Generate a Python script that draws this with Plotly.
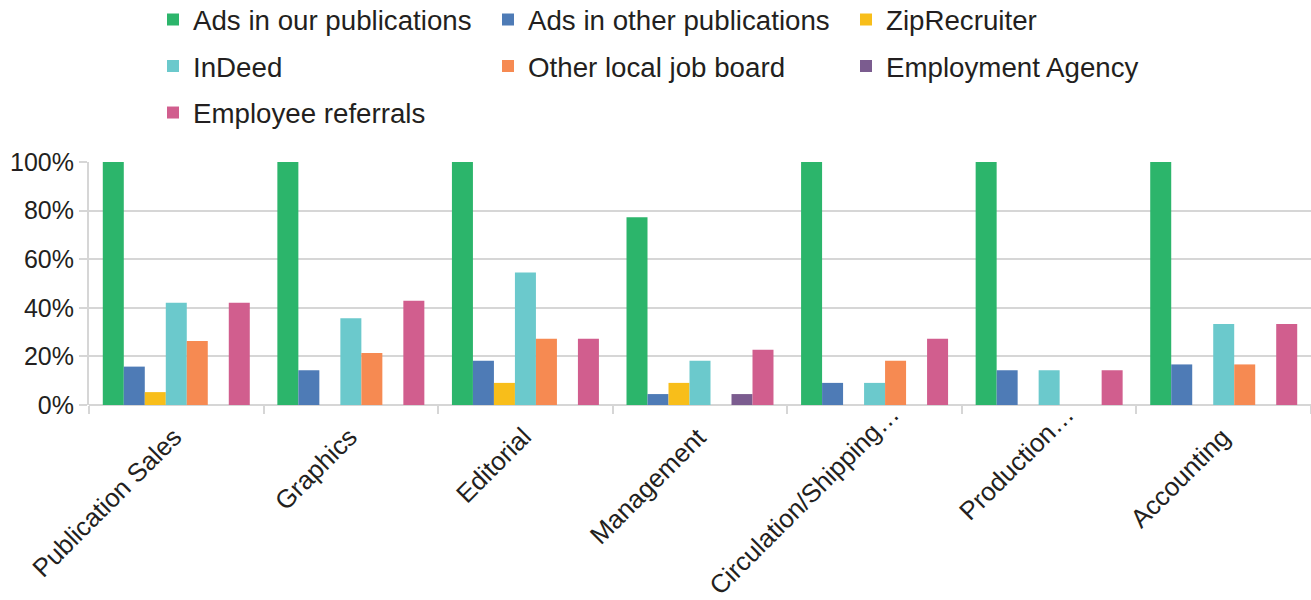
import plotly.graph_objects as go

# Hiring channels used, by department (share of positions, %)
departments = ["Publication Sales", "Graphics", "Editorial", "Management",
               "Circulation/Shipping…", "Production…", "Accounting"]

ads_our_publications = [100, 100, 100, 77.3, 100, 100, 100]
ads_other_publications = [15.8, 14.3, 18.2, 4.5, 9.1, 14.3, 16.7]
zip_recruiter = [5.3, 0, 9.1, 9.1, 0, 0, 0]
indeed = [42.1, 35.7, 54.5, 18.2, 9.1, 14.3, 33.3]
other_local_job_board = [26.3, 21.4, 27.3, 0, 18.2, 0, 16.7]
employment_agency = [0, 0, 0, 4.5, 0, 0, 0]
employee_referrals = [42.1, 42.9, 27.3, 22.7, 27.3, 14.3, 33.3]

y_ticks = [0, 20, 40, 60, 80, 100]
y_tick_labels = [f"{v}%" for v in y_ticks]

FONT = "Liberation Sans, Arial, Helvetica, sans-serif"
TEXT = "#231f20"
GRID = "#d6d6d6"

W, H = 1311, 600
ML, MR, MT, MB = 89, 0, 162, 195
PW, PH = W - ML - MR, H - MT - MB

series = [
    ("Ads in our publications", ads_our_publications, "#2cb56b", "legend"),
    ("Ads in other publications", ads_other_publications, "#4e7bb6", "legend2"),
    ("ZipRecruiter", zip_recruiter, "#f8be1a", "legend3"),
    ("InDeed", indeed, "#6bc9cc", "legend"),
    ("Other local job board", other_local_job_board, "#f68a52", "legend2"),
    ("Employment Agency", employment_agency, "#7b5c8f", "legend3"),
    ("Employee referrals", employee_referrals, "#d15e8e", "legend"),
]

fig = go.Figure()
for name, vals, color, leg in series:
    fig.add_trace(go.Bar(
        x=departments, y=vals, name=name,
        marker=dict(color=color, line=dict(width=0)),
        legend=leg, legendgroup=name,
    ))

# Rotated category labels; truncated names (ending in an ellipsis) sit
# further along the slant than the full names.
for dept in departments:
    truncated = dept.endswith("…")
    fig.add_annotation(
        x=dept, xref="x", y=0, yref="paper",
        text=dept, textangle=-45, showarrow=False,
        xanchor="right", yanchor="top", borderpad=0,
        xshift=31 if truncated else 12.5,
        yshift=6 if truncated else -16,
        font=dict(family=FONT, size=25.8, color=TEXT),
    )


def px_x(px):
    return (px - ML) / PW


def px_y(py):
    return 1 + (MT - py) / PH


legend_common = dict(
    orientation="v", xref="paper", yref="paper",
    xanchor="left", yanchor="top", y=px_y(-5),
    font=dict(family=FONT, size=27.7, color=TEXT),
    tracegroupgap=7.5, bgcolor="rgba(0,0,0,0)", borderwidth=0,
    itemclick=False, itemdoubleclick=False,
)

fig.update_layout(
    width=W, height=H,
    margin=dict(l=ML, r=MR, t=MT, b=MB, autoexpand=False),
    paper_bgcolor="white", plot_bgcolor="white",
    barmode="group", bargap=0.158, bargroupgap=0,
    font=dict(family=FONT, color=TEXT),
    showlegend=True,
    legend=dict(legend_common, x=px_x(153)),
    legend2=dict(legend_common, x=px_x(488)),
    legend3=dict(legend_common, x=px_x(846)),
    xaxis=dict(
        type="category", categoryorder="array", categoryarray=departments,
        range=[-0.5, len(departments) - 0.5], autorange=False,
        tickson="boundaries", ticks="outside", ticklen=8, tickwidth=2,
        tickcolor=GRID, showgrid=False, showline=False,
        showticklabels=False,
    ),
    yaxis=dict(
        range=[0, 100], tickmode="array", tickvals=y_ticks, ticktext=y_tick_labels,
        ticks="outside", ticklen=8, tickwidth=2, tickcolor=GRID,
        showgrid=True, gridcolor=GRID, gridwidth=2,
        zeroline=True, zerolinecolor=GRID, zerolinewidth=2,
        showline=True, linecolor=GRID, linewidth=2,
        tickfont=dict(family=FONT, size=25, color=TEXT),
    ),
)

fig.write_html("out.html")
